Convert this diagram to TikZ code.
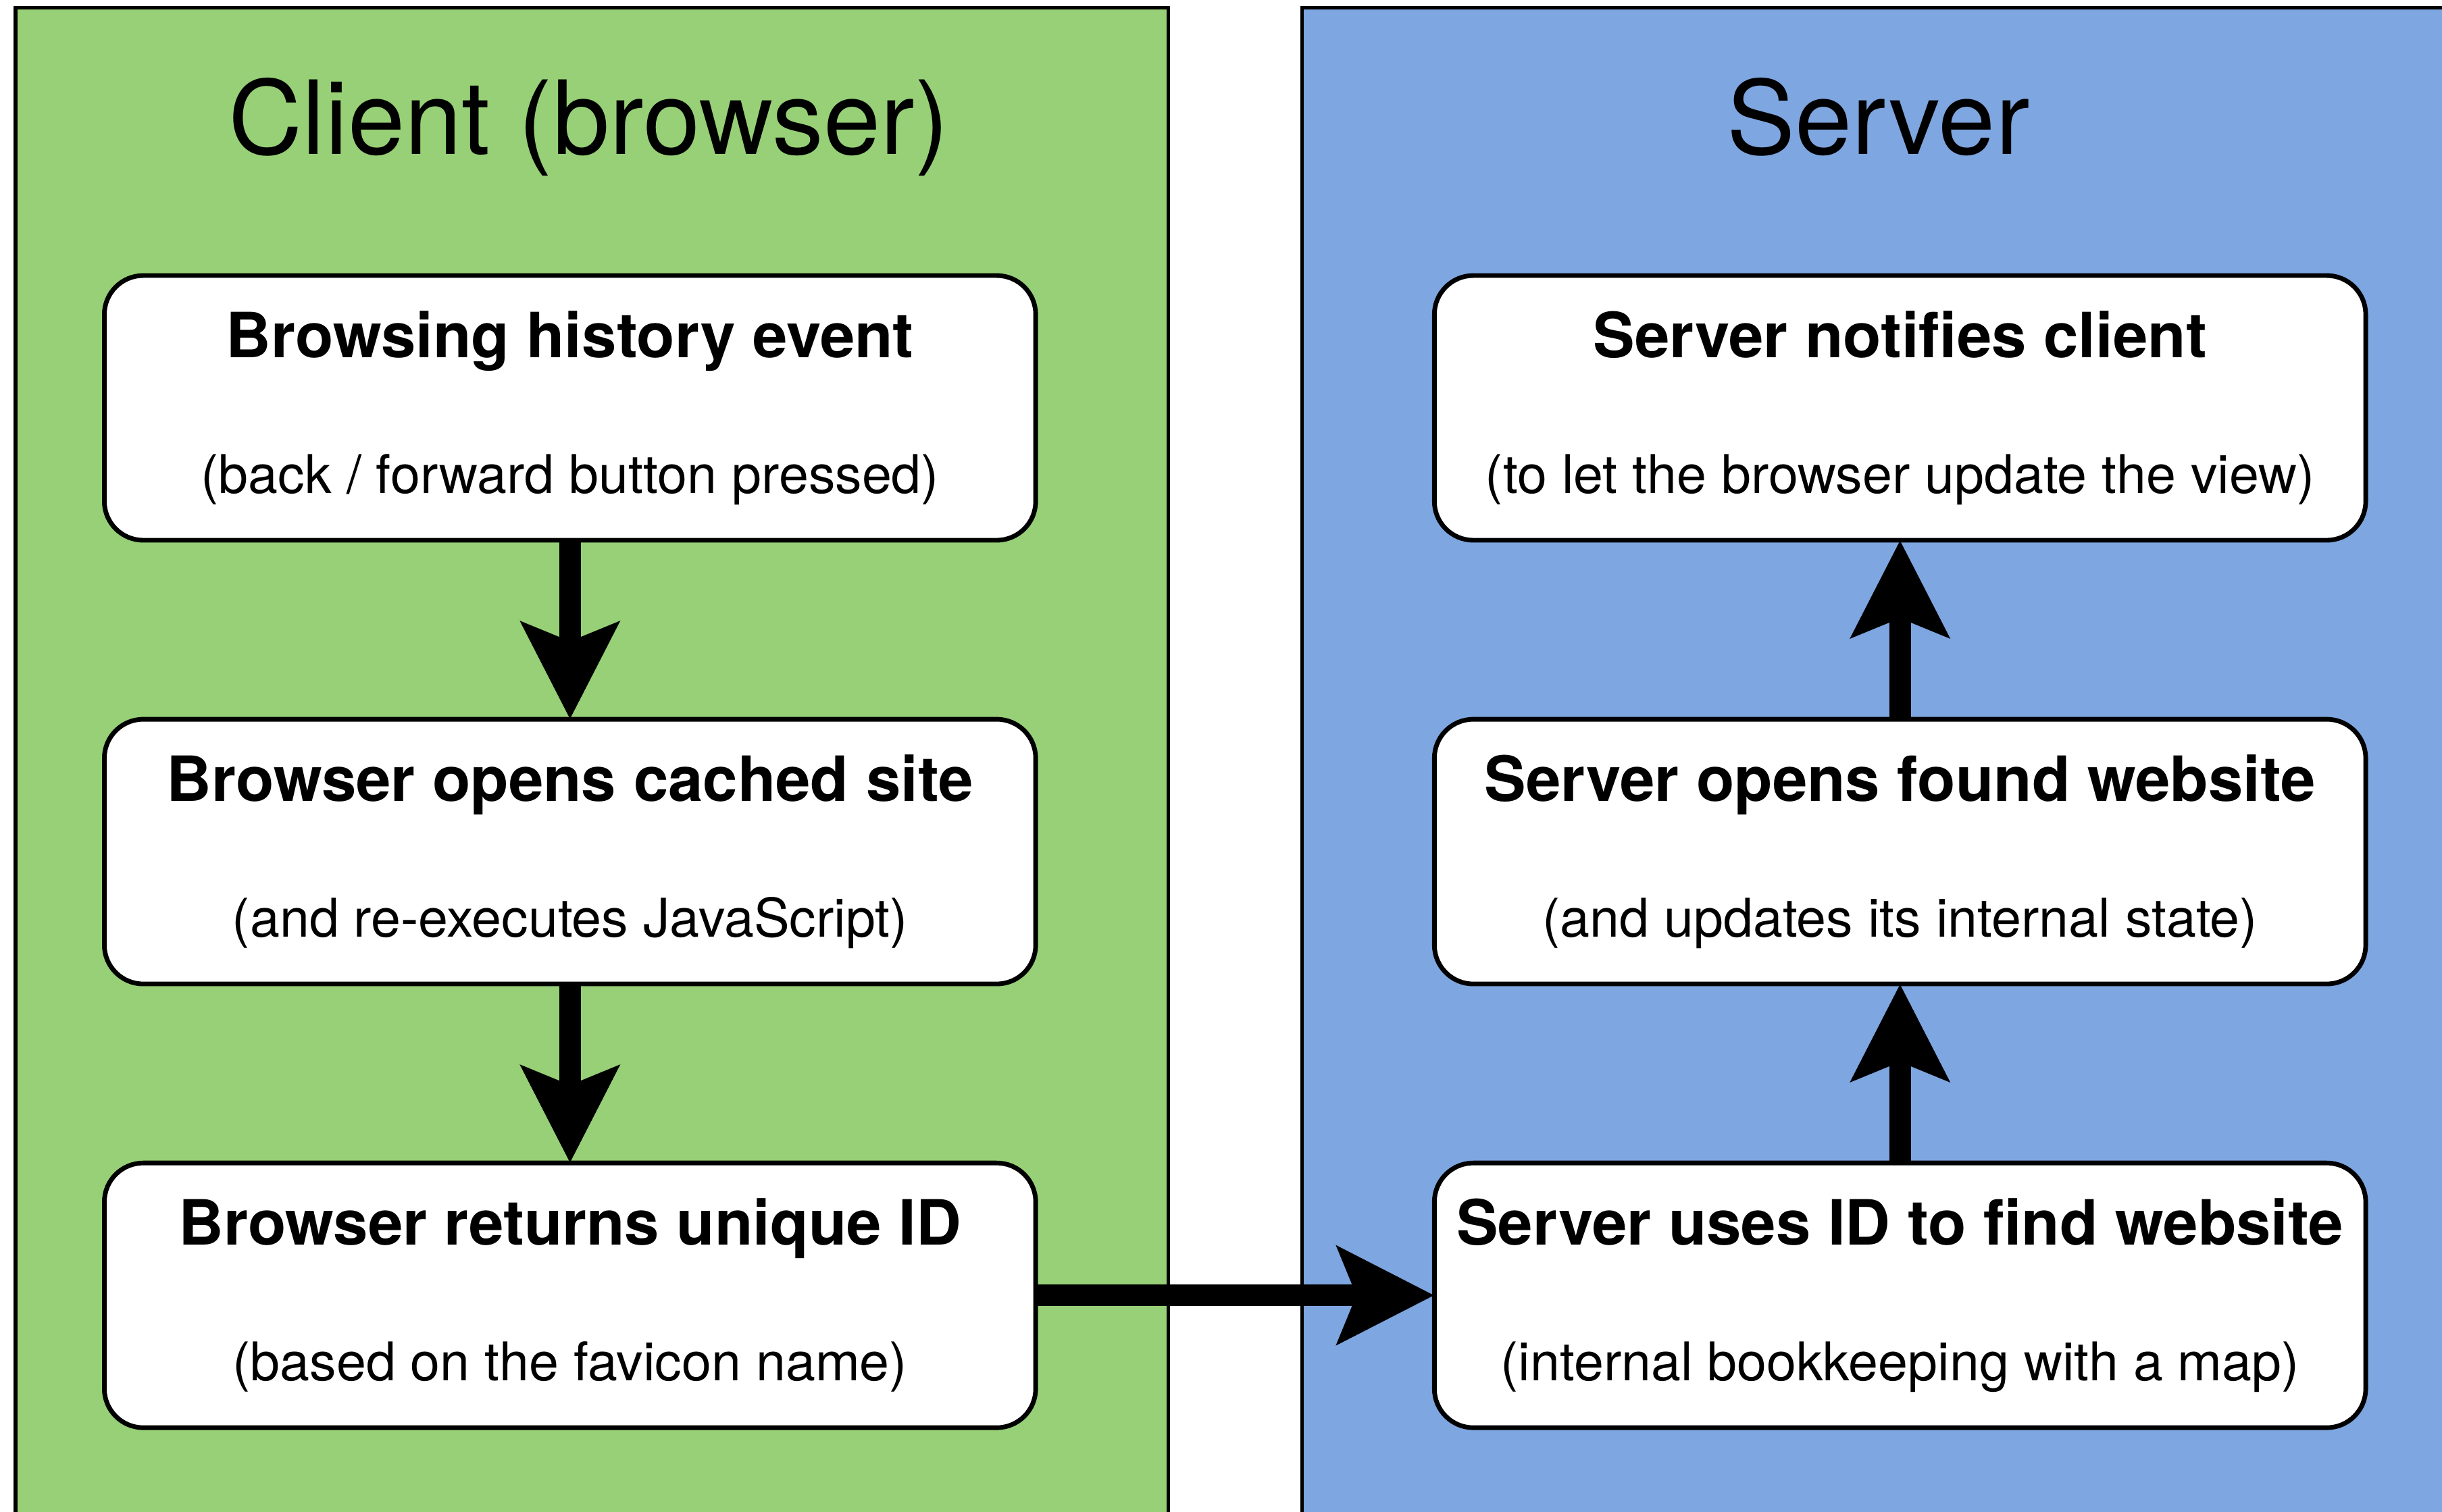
\documentclass[tikz,border=0pt]{standalone}
\usepackage{fontspec}
\setmainfont{TeX Gyre Heros}
\usetikzlibrary{arrows.meta, positioning}
\definecolor{clientgreen}{HTML}{97D077}
\definecolor{serverblue}{HTML}{7EA6E0}
\newcommand{\boxtitle}[1]{{\fontsize{11.4pt}{24.75pt}\selectfont\bfseries #1}}

\begin{document}
\begin{tikzpicture}[
  stepbox/.style    = {draw=black, line width=0.85pt, rounded corners=0.25cm, fill=white,
                       minimum width=5.98cm, minimum height=1.70cm, align=center,
                       inner sep=0pt, outer sep=0pt, font=\fontsize{9.75pt}{24.75pt}\selectfont},
  panel/.style      = {draw=black, line width=0.65pt},
  paneltitle/.style = {anchor=base, font=\fontsize{18.7pt}{22pt}\selectfont},
  arrow/.style      = {-{Stealth[length=6.2mm, width=6.2mm, inset=1.2mm]}, line width=4pt},
  node distance     = 1.15cm and 2.56cm,
]

\useasboundingbox (0,0) rectangle (15.68,-9.71);
\clip (0,0) rectangle (15.68,-9.71);

%% ==================== PANELS ====================
\draw[panel, fill=clientgreen] (0.10,-0.05) rectangle (7.50,-10.20);
\draw[panel, fill=serverblue]  (8.36,-0.05) rectangle (15.76,-10.20);

\node[paneltitle] (clienttitle) at (3.78,-0.99) {Client (browser)};
\node[paneltitle] (servertitle) at (12.06,-0.99) {Server};

%% ==================== CLIENT COLUMN ====================
\node[stepbox] (history) at (3.66,-2.62)
      {\boxtitle{Browsing history event}\\(back / forward button pressed)};

\node[stepbox, below=of history] (cached)
      {\boxtitle{Browser opens cached site}\\(and re-executes JavaScript)};

\node[stepbox, below=of cached] (returnid)
      {\boxtitle{Browser returns unique ID}\\(based on the favicon name)};

%% ==================== SERVER COLUMN ====================
\node[stepbox, right=of returnid] (findsite)
      {\boxtitle{Server uses ID to find website}\\(internal bookkeeping with a map)};

\node[stepbox, above=of findsite] (opensite)
      {\boxtitle{Server opens found website}\\(and updates its internal state)};

\node[stepbox, above=of opensite] (notify)
      {\boxtitle{Server notifies client}\\(to let the browser update the view)};

%% Arrows
\draw[arrow] (history)  -- (cached);
\draw[arrow] (cached)   -- (returnid);
\draw[arrow] (returnid) -- (findsite);
\draw[arrow] (findsite) -- (opensite);
\draw[arrow] (opensite) -- (notify);

\end{tikzpicture}
\end{document}
